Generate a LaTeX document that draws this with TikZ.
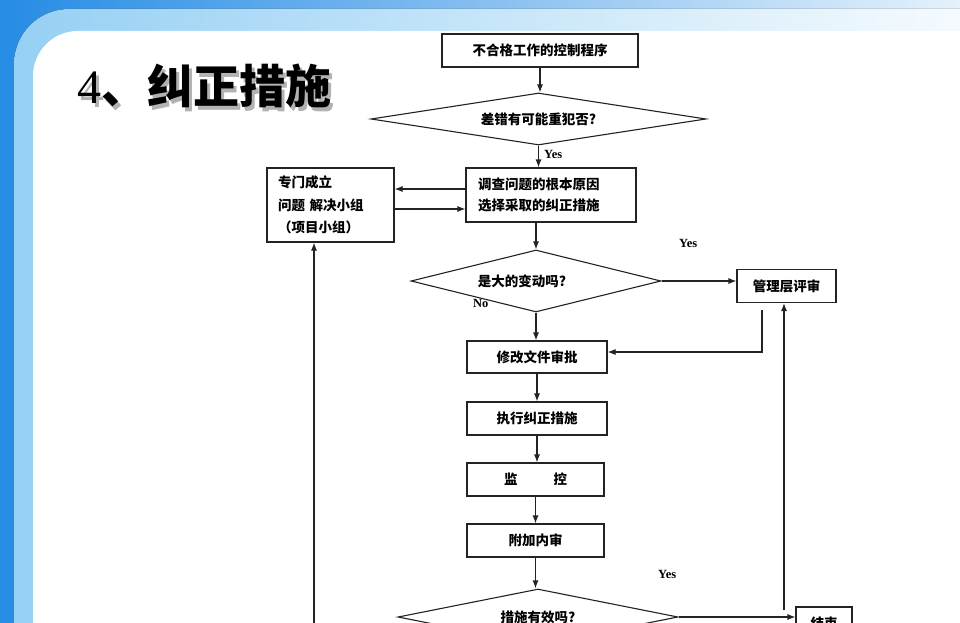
\documentclass[tikz,border=0pt]{standalone}
\usepackage{fontspec}
\setmainfont{Liberation Serif}
\newfontfamily\cjk{Noto Sans CJK SC}
\usetikzlibrary{shapes,arrows.meta,positioning}

\definecolor{frameblue}{RGB}{38,140,228}
\definecolor{bandblue}{RGB}{150,208,244}
\definecolor{linegray}{RGB}{35,35,35}

\tikzset{
  box/.style={draw=linegray, line width=1.1pt, fill=white, inner sep=0pt,
    font=\cjk\bfseries\fontsize{13.5}{21}\selectfont},
  decide/.style={diamond, draw=linegray, line width=1.1pt, fill=white, inner sep=0pt,
    font=\cjk\bfseries\fontsize{13.5}{21}\selectfont},
  arr/.style={draw=linegray, line width=1.1pt, -{Latex[length=8pt,width=6pt]}},
  tag/.style={anchor=west, inner sep=0pt, font=\bfseries\fontsize{12.5}{14}\selectfont},
}

\begin{document}
\begin{tikzpicture}[x=1pt, y=-1pt]
\useasboundingbox (0,0) rectangle (960,623);
\clip (0,0) rectangle (960,623);

% slide background
\fill[left color=frameblue, right color=frameblue!12] (0,0) rectangle (960,623);
\fill[rounded corners=55pt, left color=bandblue, right color=white] (14,9) rectangle (1060,760);
\fill[white, rounded corners=45pt] (33,31) rectangle (1060,760);

% title
\node[anchor=base west, inner sep=0pt, black!30] at (80,107)
  {{\fontsize{48}{50}\selectfont 4}{\cjk\bfseries\fontsize{46}{50}\selectfont 、纠正措施}};
\node[anchor=base west, inner sep=0pt] (title) at (77,104)
  {{\fontsize{48}{50}\selectfont 4}{\cjk\bfseries\fontsize{46}{50}\selectfont 、纠正措施}};

% main column
\node[box, minimum width=196pt, minimum height=33pt] (ctrl) at (540,50.5) {不合格工作的控制程序};
\node[decide, minimum width=335pt, minimum height=52pt, aspect=6.4] (again) at (538.5,119) {差错有可能重犯否?};
\node[box, text width=146pt, inner xsep=12pt, minimum height=54pt, align=left] (cause) at (551,195)
  {调查问题的根本原因\\选择采取的纠正措施};
\node[box, text width=105pt, inner xsep=11pt, minimum height=74pt, align=left,
  font=\cjk\bfseries\fontsize{13.5}{22.5}\selectfont] (team) at (330.5,205)
  {专门成立\\问题 解决小组\\（项目小组）};
\node[decide, minimum width=250pt, minimum height=62pt, aspect=4] (big) at (536,281)
  {\hspace*{-28pt}是大的变动吗?};
\node[box, minimum width=99pt, minimum height=33pt] (mgmt) at (786.5,286) {管理层评审};
\node[box, minimum width=140pt, minimum height=32pt] (docs) at (537,357) {修改文件审批};
\node[box, minimum width=140pt, minimum height=33pt] (act) at (537,418.5) {执行纠正措施};
\node[box, minimum width=137pt, minimum height=33pt] (watch) at (535.5,479.5) {监\hspace{36pt}控};
\node[box, minimum width=137pt, minimum height=33pt] (audit) at (535.5,540.5) {附加内审};
\node[decide, minimum width=280pt, minimum height=56pt, aspect=5] (works) at (538,617) {措施有效吗?};
\node[box, minimum width=56pt, minimum height=33pt] (done) at (824,623.5) {结束};

% labels
\node[tag] (yes1) at (544,154) {Yes};
\node[tag] (yes2) at (679,243) {Yes};
\node[tag] (no1) at (473,303) {No};
\node[tag] (yes3) at (658,574) {Yes};

% free ends
\coordinate (mgmtout) at (762,310);
\coordinate (rightin) at (784,610);
\coordinate (leftin) at (314,640);

% connectors
\draw[arr] (ctrl.south) -- (ctrl.south |- again.north);
\draw[arr] (again.south) -- (again.south |- cause.north);
\draw[arr] ([yshift=6pt]cause.west) -- ([yshift=6pt]cause.west -| team.east);
\draw[arr] ([yshift=-14pt]cause.west -| team.east) -- ([yshift=-14pt]cause.west);
\draw[arr] (big.north |- cause.south) -- (big.north);
\draw[arr] (big.east) -- (big.east -| mgmt.west);
\draw[arr] (big.south) -- (big.south |- docs.north);
\draw[arr] (mgmtout) |- ([yshift=5pt]docs.east);
\draw[arr] (rightin) -- (rightin |- mgmt.south);
\draw[arr] (docs) -- (act);
\draw[arr] (act.south) -- (act.south |- watch.north);
\draw[arr] (watch) -- (audit);
\draw[arr] (audit.south) -- (audit.south |- works.north);
\draw[arr] (works.east) -- (works.east -| done.west);
\draw[arr] (leftin) -- (leftin |- team.south);
\end{tikzpicture}
\end{document}
